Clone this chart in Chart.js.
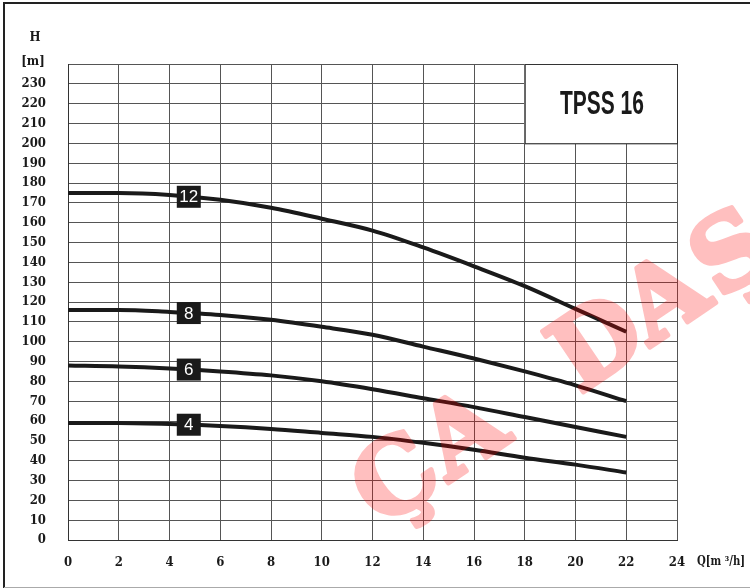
<!DOCTYPE html>
<html>
<head>
<meta charset="utf-8">
<script src="https://cdn.jsdelivr.net/npm/chart.js@4.4.1/dist/chart.umd.min.js"></script>
<style>
  html, body { margin: 0; padding: 0; background: #fff; }
  #wrap { width: 750px; height: 588px; position: relative; }
</style>
</head>
<body>
<div id="wrap"><canvas id="pumpChart"></canvas></div>
<script>
// debi Q [m3/h] ve basma yüksekliği H [m]
const flowQ = [0, 2, 4, 6, 8, 10, 12, 14, 16, 18, 20, 22];
const head12 = [175, 175, 174, 171.5, 167.5, 162, 156, 147.5, 138, 128, 116.5, 105];
const head8 = [116, 116, 115, 113.5, 111, 107.5, 103.5, 97.5, 91.5, 85, 78, 70];
const head6 = [88, 87.5, 86.5, 85, 83, 80, 76, 71.5, 67, 62, 57, 52];
const head4 = [59, 59, 58.5, 57.5, 56, 54, 52, 49, 45.5, 41.5, 38, 34];
const stageLabels = ['12', '8', '6', '4'];
const labelQ = 4.76;
const xTicks = [0, 2, 4, 6, 8, 10, 12, 14, 16, 18, 20, 22, 24];
const modelName = 'TPSS 16';
const watermark = 'ÇA DAŞ';

const serifCond = "'DejaVu Serif Condensed', 'Liberation Serif', serif";

const toPoints = arr => arr.map((h, i) => ({ x: flowQ[i], y: h }));

const curveStyle = {
    borderColor: '#1a1a1a',
    borderWidth: 4,
    pointRadius: 0,
    fill: false,
    cubicInterpolationMode: 'monotone'
};

// yazıyı verilen genişliğe sıkıştırarak yaz
function drawFitted(ctx, text, x, y, width) {
    const w = ctx.measureText(text).width;
    ctx.save();
    ctx.translate(x, y);
    ctx.scale(width / w, 1);
    ctx.fillText(text, 0, 0);
    ctx.restore();
}

// başlık kutusu, eğri etiketleri, filigran
const decorPlugin = {
    id: 'decor',
    beforeDatasetsDraw(chart) {
        const { ctx, scales: { x, y } } = chart;
        const l = x.getPixelForValue(18), r = x.getPixelForValue(24);
        const t = y.getPixelForValue(240), b = y.getPixelForValue(200);
        ctx.save();
        ctx.fillStyle = '#fff';
        ctx.fillRect(l, t, r - l, b - t);
        ctx.strokeStyle = '#333';
        ctx.lineWidth = 1;
        ctx.strokeRect(l + 0.5, t + 0.5, r - l, b - t);
        ctx.fillStyle = '#1a1a1a';
        ctx.font = "bold 34px 'Liberation Sans Narrow', 'Liberation Sans', sans-serif";
        ctx.textBaseline = 'middle';
        ctx.textAlign = 'center';
        drawFitted(ctx, modelName, (l + r) / 2 + 1, (t + b) / 2 + 1, 84);
        ctx.restore();
    },
    afterDatasetsDraw(chart) {
        const { ctx, scales: { x, y } } = chart;
        ctx.save();
        chart.data.datasets.forEach((ds, i) => {
            const px = x.getPixelForValue(labelQ);
            // eğri üzerindeki y değerini bul
            let py = y.getPixelForValue(ds.data[0].y);
            for (let k = 0; k < flowQ.length - 1; k++) {
                if (labelQ >= flowQ[k] && labelQ <= flowQ[k + 1]) {
                    const f = (labelQ - flowQ[k]) / (flowQ[k + 1] - flowQ[k]);
                    py = y.getPixelForValue(ds.data[k].y + f * (ds.data[k + 1].y - ds.data[k].y));
                }
            }
            ctx.fillStyle = '#1a1a1a';
            ctx.fillRect(px - 12, py - 11, 24, 22);
            ctx.fillStyle = '#fff';
            ctx.font = "17px 'Liberation Sans', Arial, sans-serif";
            ctx.textAlign = 'center';
            ctx.textBaseline = 'middle';
            ctx.fillText(stageLabels[i], px, py + 1);
        });
        ctx.restore();
    },
    afterDraw(chart) {
        const { ctx } = chart;
        ctx.save();
        // eksen başlıkları
        ctx.fillStyle = '#1a1a1a';
        ctx.font = 'bold 13px ' + serifCond;
        ctx.textAlign = 'center';
        ctx.textBaseline = 'middle';
        ctx.fillText('H', 35, 38);
        ctx.fillText('[m]', 33, 62);
        ctx.textAlign = 'left';
        drawFitted(ctx, 'Q[m ³/h]', 697, 562, 48);

        // çerçeve
        ctx.strokeStyle = '#222';
        ctx.lineWidth = 2;
        ctx.beginPath();
        ctx.moveTo(750, 3);
        ctx.lineTo(4, 3);
        ctx.lineTo(4, 588);
        ctx.stroke();
        ctx.strokeStyle = '#aaa';
        ctx.lineWidth = 1;
        ctx.beginPath();
        ctx.moveTo(4, 587.5);
        ctx.lineTo(750, 587.5);
        ctx.stroke();
        ctx.restore();

        // filigran: önce ayrı tuvale opak çiz, sonra şeffaf bindir
        const off = document.createElement('canvas');
        off.width = chart.width;
        off.height = chart.height;
        const oc = off.getContext('2d');
        oc.fillStyle = '#ff0000';
        oc.strokeStyle = '#ff0000';
        oc.lineWidth = 5;
        oc.lineJoin = 'round';
        oc.font = "bold 100px 'DejaVu Serif', 'Liberation Serif', serif";
        oc.textAlign = 'center';
        oc.textBaseline = 'middle';
        oc.translate(395, 478);
        oc.rotate(-34 * Math.PI / 180);
        [...watermark].forEach((ch, i) => {
            oc.fillText(ch, i * 81, 8);
            oc.strokeText(ch, i * 81, 8);
        });
        ctx.save();
        ctx.globalAlpha = 0.25;
        ctx.drawImage(off, 0, 0, chart.width, chart.height);
        ctx.restore();
    }
};

new Chart(document.getElementById('pumpChart'), {
    type: 'line',
    data: {
        datasets: [
            { ...curveStyle, label: '12', data: toPoints(head12) },
            { ...curveStyle, label: '8', data: toPoints(head8) },
            { ...curveStyle, label: '6', data: toPoints(head6) },
            { ...curveStyle, label: '4', data: toPoints(head4) }
        ]
    },
    options: {
        responsive: true,
        maintainAspectRatio: false,
        animation: false,
        layout: { padding: { top: 64, right: 73, left: 0, bottom: 0 } },
        plugins: { legend: { display: false }, tooltip: { enabled: false } },
        scales: {
            x: {
                type: 'linear',
                min: 0, max: 24,
                afterBuildTicks: s => { s.ticks = xTicks.map(v => ({ value: v })); },
                afterFit: s => { s.height = 48; },
                grid: { color: '#555', lineWidth: 1, drawTicks: false },
                border: { color: '#333', width: 1 },
                ticks: {
                    padding: 15,
                    color: '#1a1a1a',
                    font: { family: serifCond, size: 13, weight: 'bold' }
                }
            },
            y: {
                min: 0, max: 240,
                afterFit: s => { s.width = 68; },
                grid: { color: '#555', lineWidth: 1, drawTicks: false },
                border: { color: '#333', width: 1 },
                ticks: {
                    stepSize: 10,
                    padding: 22,
                    color: '#1a1a1a',
                    font: { family: serifCond, size: 13, weight: 'bold' },
                    callback: v => (v === 240 ? '' : v)
                }
            }
        }
    },
    plugins: [decorPlugin]
});
</script>
</body>
</html>
